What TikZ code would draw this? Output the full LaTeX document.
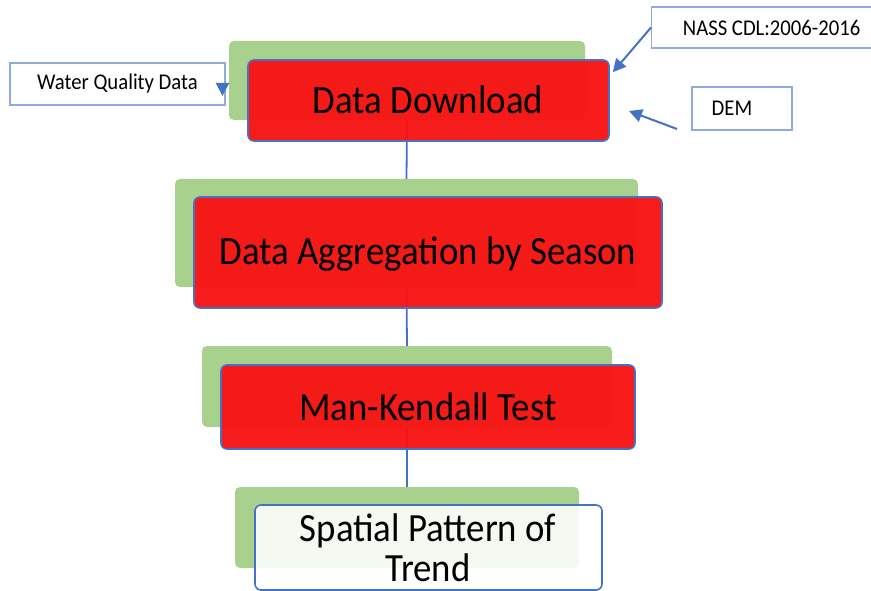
\documentclass[tikz,border=0pt]{standalone}
\usepackage{fontspec}
\setmainfont{Carlito}[FakeStretch=0.92]
\usetikzlibrary{arrows.meta}
\definecolor{gfill}{HTML}{A9D18E}
\definecolor{rfill}{HTML}{F71313}
\definecolor{bline}{HTML}{4472C4}
\definecolor{lbline}{HTML}{8FAADC}
\tikzset{
  greenbox/.style={fill=gfill, rounded corners=5pt, inner sep=0pt},
  redbox/.style={fill=rfill, fill opacity=0.96, draw=bline, line width=1.6pt, rounded corners=6pt, inner sep=0pt},
  whitebox/.style={fill=white, fill opacity=0.88, draw=bline, line width=1.6pt, rounded corners=6pt, inner sep=0pt},
  bigtext/.style={font=\fontsize{40}{40}\selectfont, align=center, inner sep=0pt},
  labelbox/.style={fill=white, draw=lbline, line width=1.2pt, inner sep=0pt, font=\fontsize{22.5}{24}\selectfont},
  link/.style={draw=bline, line width=1.8pt},
  arr/.style={draw=bline, line width=2pt, -{Triangle[length=13pt,width=13pt]}}
}
\begin{document}
\begin{tikzpicture}[x=1pt,y=-1pt]
\useasboundingbox (0,0) rectangle (871,591);
% green back boxes
\node[greenbox, minimum width=356pt, minimum height=79pt] (g1) at (407,80.5) {};
\node[greenbox, minimum width=463pt, minimum height=108pt] (g2) at (406.5,233) {};
\node[greenbox, minimum width=410pt, minimum height=81pt] (g3) at (407,386.5) {};
\node[greenbox, minimum width=344pt, minimum height=81pt] (g4) at (407,527.5) {};
% connectors
\draw[link] (g1.south) -- (g2.north);
\draw[link] (g2.south) -- (g3.north);
\draw[link] (g3.south) -- (g4.north);
% front boxes
\node[redbox, minimum width=361pt, minimum height=81pt] (r1) at (428.5,100.5) {};
\node[bigtext] (t1) at (428,100) {Data Download};
\node[redbox, minimum width=468pt, minimum height=111pt] (r2) at (428,252.5) {};
\node[bigtext] (t2) at (428,254) {Data Aggregation by Season};
\node[redbox, minimum width=414pt, minimum height=84pt] (r3) at (428,407) {};
\node[bigtext] (t3) at (428,407) {Man-Kendall Test};
\node[whitebox, minimum width=347pt, minimum height=85pt] (w4) at (428.5,547.5) {};
\node[bigtext] (t4) at (428,548) {Spatial Pattern of\\Trend};
% labels
\node[labelbox, minimum width=215pt, minimum height=42pt] (wq) at (117.5,84) {Water Quality Data};
\node[labelbox, minimum width=222pt, minimum height=41pt, anchor=west] (nass) at (651,27.5) {\hspace*{18pt}NASS CDL:2006-2016\hfill};
\node[labelbox, minimum width=100pt, minimum height=43pt] (dem) at (742,108.5) {\hspace*{-20pt}DEM};
% arrows
\coordinate (wqs) at (222.5,85);
\coordinate (wqe) at (222.5,96);
\draw[arr] (wqs) -- (wqe);
\draw[arr] (nass.west) -- ([xshift=3pt,yshift=-13pt]r1.north east);
\coordinate (dems) at (677,129);
\coordinate (deme) at (629,111);
\draw[arr] (dems) -- (deme);
\end{tikzpicture}
\end{document}
